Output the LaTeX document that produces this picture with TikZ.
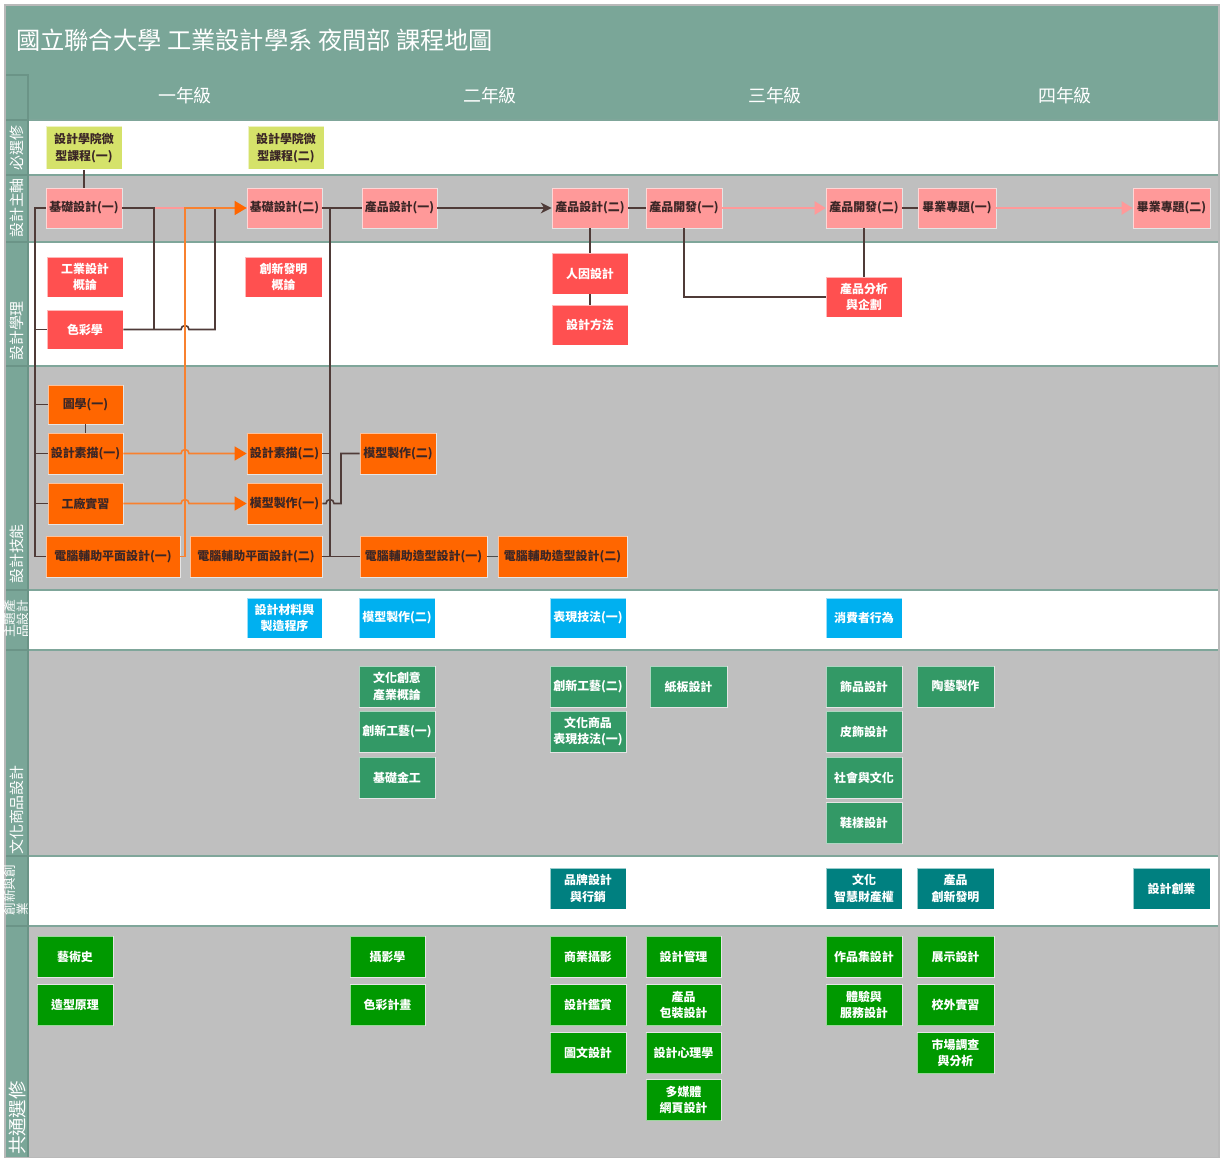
\documentclass[tikz,border=0pt]{standalone}
\usepackage{fontspec}
\setmainfont{Noto Sans CJK TC}
\usetikzlibrary{arrows.meta}
\definecolor{hdr}{HTML}{7AA698}
\definecolor{sep}{HTML}{7FA69A}
\definecolor{stripline}{HTML}{6B9487}
\definecolor{lanegray}{HTML}{BFBFBF}
\definecolor{ygreen}{HTML}{D5E26A}
\definecolor{pinkc}{HTML}{FF9999}
\definecolor{redc}{HTML}{FF5050}
\definecolor{orangec}{HTML}{FF6600}
\definecolor{cyanc}{HTML}{00B0F0}
\definecolor{cgreen}{HTML}{339966}
\definecolor{tealc}{HTML}{008080}
\definecolor{bgreen}{HTML}{009900}
\definecolor{dkline}{HTML}{4F3B38}
\definecolor{orline}{HTML}{F8812F}
\definecolor{dktext}{HTML}{3B2626}
\begin{document}
\begin{tikzpicture}[x=0.02cm,y=-0.02cm,
  sz/.style 2 args={minimum width=#1*0.02cm,minimum height=#2*0.02cm},
  box/.style={rectangle,inner sep=0pt,align=center,font=\fontsize{6.8}{9.2}\selectfont\bfseries,draw=white,draw opacity=0.6,line width=0.4pt,sz={76}{40}},
  yb/.style={box,fill=ygreen,text=dktext,sz={76}{43}},
  pb/.style={box,fill=pinkc,text=dktext},
  rb/.style={box,fill=redc,text=white},
  ob/.style={box,fill=orangec,text=dktext},
  cb/.style={box,fill=cyanc,text=white},
  gb/.style={box,fill=cgreen,text=white},
  tb/.style={box,fill=tealc,text=white},
  bb/.style={box,fill=bgreen,text=white},
  dk/.style={draw=dkline,line width=0.9pt},
  orl/.style={draw=orline,line width=0.9pt},
  pkl/.style={draw=pinkc,line width=1.3pt},
  otip/.style={-{Triangle[length=0.24cm,width=0.28cm,color=orangec]}},
  ptip/.style={-{Triangle[length=0.22cm,width=0.26cm,color=pinkc]}},
  lanelab/.style={rotate=90,text=white,font=\fontsize{8.5}{10}\selectfont},
  lanelab2/.style={rotate=90,text=white,align=left,font=\fontsize{7.2}{7.6}\selectfont},
  yearlab/.style={text=white,font=\fontsize{10.2}{12}\selectfont},
]
\useasboundingbox (0,0) rectangle (1221,1158);
\fill[white] (0,0) rectangle (1221,1158);
% header
\fill[hdr] (5,5) rectangle (1219,120);
% lanes
\foreach \a/\b/\c in {120/175/white,175/242/lanegray,242/366/white,366/590/lanegray,590/650/white,650/856/lanegray,856/926/white,926/1158/lanegray}
  \fill[\c] (28,\a) rectangle (1219,\b);
\foreach \yy in {175,242,366,590,650,856,926}
  \draw[sep,line width=1.5pt] (5,\yy) -- (1219,\yy);
\draw[sep,line width=1pt] (28,120) -- (1219,120);
% strip
\fill[hdr] (5,75) rectangle (28,1158);
\draw[stripline,line width=0.6pt] (5,75) -- (28,75) -- (28,1158);
\foreach \yy in {120,175,242,366,590,650,856,926}
  \draw[stripline,line width=0.8pt] (5,\yy) -- (28,\yy);
\draw[gray!55,line width=0.8pt] (5,5) rectangle (1219,1158);

% title and years
\node[anchor=west,text=white,font=\fontsize{13.8}{16}\selectfont] (title) at (10,40) {國立聯合大學 工業設計學系 夜間部 課程地圖};
\node[yearlab] (y1) at (185,96) {一年級};
\node[yearlab] (y2) at (490,96) {二年級};
\node[yearlab] (y3) at (775,96) {三年級};
\node[yearlab] (y4) at (1065,96) {四年級};

% lane labels
\node[lanelab] (l1) at (17,148) {必選修};
\node[lanelab] (l2) at (17,208) {設計主軸};
\node[lanelab] (l3) at (17,331) {設計學理};
\node[lanelab] (l4) at (17,554) {設計技能};
\node[lanelab2] (l5) at (16,619) {主題產\\品設計};
\node[lanelab] (l6) at (17,810) {文化商品設計};
\node[lanelab2] (l7) at (16,890) {創新與創\\業};
\node[lanelab,font=\fontsize{10.5}{12}\selectfont] (l8) at (17,1118) {共通選修};

% 必選修
\node[yb] (mc1) at (84,148) {設計學院微\\型課程(一)};
\node[yb] (mc2) at (286,148) {設計學院微\\型課程(二)};
% 設計主軸
\node[pb] (jc1) at (84,208) {基礎設計(一)};
\node[pb,sz={75}{40}] (jc2) at (284.5,208) {基礎設計(二)};
\node[pb,sz={75}{40}] (pd1) at (399.5,208) {產品設計(一)};
\node[pb] (pd2) at (590,208) {產品設計(二)};
\node[pb] (pv1) at (684,208) {產品開發(一)};
\node[pb] (pv2) at (864,208) {產品開發(二)};
\node[pb,sz={78}{40}] (gp1) at (957,208) {畢業專題(一)};
\node[pb,sz={77}{40}] (gp2) at (1171.5,208) {畢業專題(二)};
% 設計學理
\node[rb] (idi) at (85,277) {工業設計\\概論};
\node[rb,sz={76}{39}] (col) at (85,329.5) {色彩學};
\node[rb,sz={77}{40}] (inv) at (283.5,277) {創新發明\\概論};
\node[rb,sz={76}{41}] (hf) at (590,273.5) {人因設計};
\node[rb] (dm) at (590,325) {設計方法};
\node[rb] (pa) at (864,297) {產品分析\\與企劃};
% 設計技能
\node[ob,sz={75}{39}] (gr1) at (85.5,404.5) {圖學(一)};
\node[ob,sz={75}{41}] (sk1) at (85.5,453.5) {設計素描(一)};
\node[ob,sz={75}{41}] (fw) at (85.5,503.5) {工廠實習};
\node[ob,sz={134}{41}] (cp1) at (113,556.5) {電腦輔助平面設計(一)};
\node[ob,sz={132}{41}] (cp2) at (256,556.5) {電腦輔助平面設計(二)};
\node[ob,sz={75}{41}] (sk2) at (284.5,453.5) {設計素描(二)};
\node[ob,sz={75}{41}] (mm1) at (284.5,503.5) {模型製作(一)};
\node[ob,sz={76}{41}] (mm2) at (398,453.5) {模型製作(二)};
\node[ob,sz={127}{41}] (cm1) at (423.5,556.5) {電腦輔助造型設計(一)};
\node[ob,sz={129}{41}] (cm2) at (562.5,556.5) {電腦輔助造型設計(二)};
% 主題產品設計
\node[cb,sz={75}{40}] (mat) at (284.5,618) {設計材料與\\製造程序};
\node[cb] (mm2b) at (397,618) {模型製作(二)};
\node[cb] (ex1) at (588,618) {表現技法(一)};
\node[cb] (cbh) at (864,618) {消費者行為};
% 文化商品設計
\node[gb,sz={76}{41}] (cci) at (397,686.5) {文化創意\\產業概論};
\node[gb,sz={76}{41}] (ic1) at (397,731.5) {創新工藝(一)};
\node[gb,sz={76}{41}] (bm) at (397,777.5) {基礎金工};
\node[gb,sz={76}{41}] (ic2) at (588,686.5) {創新工藝(二)};
\node[gb,sz={76}{41}] (cpe) at (588,731.5) {文化商品\\表現技法(一)};
\node[gb,sz={77}{41}] (pbd) at (688.5,686.5) {紙板設計};
\node[gb,sz={76}{41}] (acc) at (864,686.5) {飾品設計};
\node[gb,sz={76}{41}] (lth) at (864,731.5) {皮飾設計};
\node[gb,sz={76}{41}] (soc) at (864,777.5) {社會與文化};
\node[gb,sz={76}{41}] (shoe) at (864,823) {鞋樣設計};
\node[gb,sz={77}{41}] (cer) at (955.5,686.5) {陶藝製作};
% 創新與創業
\node[tb,sz={76}{41}] (brand) at (588,888.5) {品牌設計\\與行銷};
\node[tb,sz={76}{41}] (cip) at (864,888.5) {文化\\智慧財產權};
\node[tb,sz={77}{41}] (pin) at (955.5,888.5) {產品\\創新發明};
\node[tb,sz={77}{41}] (ent) at (1171.5,888.5) {設計創業};
% 共通選修
\node[bb,sz={76}{41}] (art) at (75,956.5) {藝術史};
\node[bb,sz={76}{41}] (form) at (75,1005) {造型原理};
\node[bb,sz={75}{41}] (photo) at (387.5,956.5) {攝影學};
\node[bb,sz={75}{41}] (cplan) at (387.5,1005) {色彩計畫};
\node[bb,sz={76}{41}] (cph) at (588,956.5) {商業攝影};
\node[bb,sz={76}{41}] (dapp) at (588,1005) {設計鑑賞};
\node[bb,sz={76}{41}] (gd) at (588,1053) {圖文設計};
\node[bb,sz={75}{41}] (dman) at (683.5,956.5) {設計管理};
\node[bb,sz={75}{41}] (pkg) at (683.5,1005) {產品\\包裝設計};
\node[bb,sz={75}{41}] (dpsy) at (683.5,1053) {設計心理學};
\node[bb,sz={75}{41}] (mweb) at (683.5,1100) {多媒體\\網頁設計};
\node[bb,sz={76}{41}] (port) at (864,956.5) {作品集設計};
\node[bb,sz={76}{41}] (exps) at (864,1005) {體驗與\\服務設計};
\node[bb,sz={77}{41}] (disp) at (955.5,956.5) {展示設計};
\node[bb,sz={77}{41}] (intern) at (955.5,1005) {校外實習};
\node[bb,sz={77}{41}] (mkt) at (955.5,1053) {市場調查\\與分析};

% helper coordinates
\coordinate (busL) at (35,0);
\coordinate (busM) at (154,0);
\coordinate (busR) at (215,0);
\coordinate (busO) at (185,0);
\coordinate (bus2) at (330,0);
\coordinate (bus3) at (341,0);

% pink connectors
\draw[pkl] (jc1.east) -- (jc2.west);
\draw[pkl,ptip] (pv1.east) -- (pv2.west);
\draw[pkl,ptip] (gp1.east) -- (gp2.west);

% dark connectors
\draw[dk] (mc1.south) -- (jc1.north);
\draw[dk] (jc1.west) -- (jc1.west -| busL) |- (cp1.west);
\foreach \n in {col,gr1,sk1,fw}
  \draw[dk] (\n.west) -- (\n.west -| busL);
\draw[dk] (jc1.east) -- (jc1.east -| busM) -- (col.east -| busM);
\draw[dk] (col.east) -- (181,329.5) arc[start angle=180,end angle=0,radius=0.08cm] -- (col.east -| busR) -- (jc1.east -| busR);
\draw[dk] (gr1.south) -- (sk1.north);
\draw[dk] (jc2.east) -- (pd1.west);
\draw[dk] (jc2.east -| bus2) -- (cp2.east -| bus2);
\draw[dk] (sk2.east) -- (sk2.east -| bus2);
\draw[dk] (cp2.east) -- (cm1.west);
\draw[dk] (mm1.east) -- (326,503.5) arc[start angle=180,end angle=0,radius=0.08cm] -- (mm1.east -| bus3) -- (mm2.west -| bus3) -- (mm2.west);
\draw[gray!60!black,line width=0.5pt] (cm1.east) -- (cm2.west);
\draw[dk,-{Stealth[length=0.22cm,width=0.22cm]}] (pd1.east) -- (pd2.west);
\draw[dk] (pd2.east) -- (pv1.west);
\draw[dk] (pd2.south) -- (hf.north);
\draw[dk] (hf.south) -- (dm.north);
\draw[dk] (pv1.south) |- (pa.west);
\draw[dk] (pv2.south) -- (pa.north);
\draw[dk] (pv2.east) -- (gp1.west);

% orange connectors
\draw[orl,otip] (cp1.east) -- (cp1.east -| busO) -- (jc2.west -| busO) -- (jc2.west);
\draw[orl,otip] (sk1.east) -- (181,453.5) arc[start angle=180,end angle=0,radius=0.08cm] -- (sk2.west);
\draw[orl,otip] (fw.east) -- (181,503.5) arc[start angle=180,end angle=0,radius=0.08cm] -- (mm1.west);
\end{tikzpicture}
\end{document}
